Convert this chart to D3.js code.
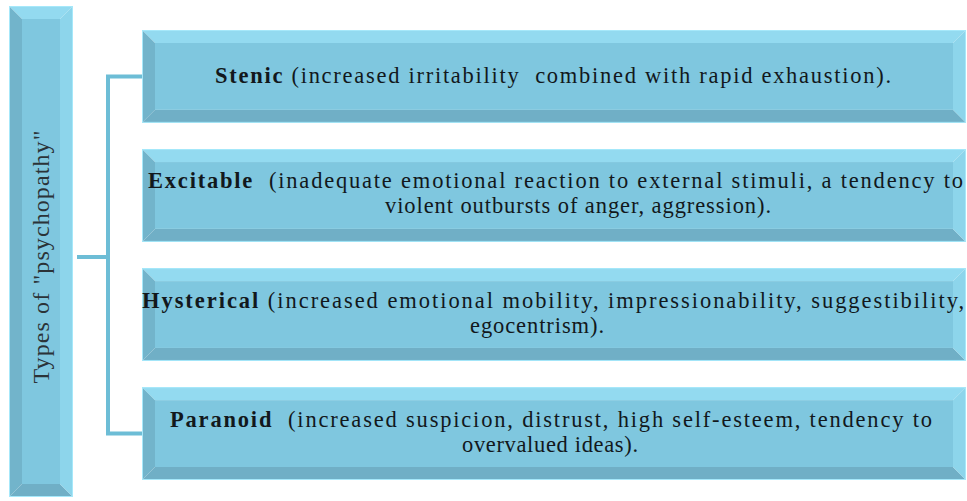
<!DOCTYPE html>
<html>
<head>
<meta charset="utf-8">
<script src="https://cdn.jsdelivr.net/npm/d3@7"></script>
<style>
  body { margin: 0; background: #fff; }
  svg text { white-space: pre; }
</style>
</head>
<body>
<div id="chart"></div>
<script>
const width = 967;
const height = 501;

const rootLabel = 'Types of "psychopathy"';
const categories = ["Stenic", "Excitable", "Hysterical", "Paranoid"];
const firstLines = [
    " (increased irritability  combined with rapid exhaustion).",
    "  (inadequate emotional reaction to external stimuli, a tendency to",
    " (increased emotional mobility, impressionability, suggestibility,",
    "  (increased suspicion, distrust, high self-esteem, tendency to"
];
const secondLines = [
    "",
    "violent outbursts of anger, aggression).",
    "egocentrism).",
    "overvalued ideas)."
];

// where each text line starts and how wide it runs in the original
const firstSpan = [[215, 676], [148, 815], [142, 822], [170, 762]];
const secondSpan = [null, [385, 386], [470, 134], [462, 176]];

const serif = "'Liberation Serif', 'Times New Roman', serif";
const face = "#7fc7df";
const bevelTop = "#93daf0";
const bevelLeft = "#72b4cb";
const bevelBottom = "#70afc6";
const bevelRight = "#8dd5eb";
const edge = "#a6e8fa";
const lineColor = "#6dbdd6";
const textColor = "#12181c";
const bevel = 13;
const fontSize = 22.5;

const svg = d3.select("#chart")
    .append("svg")
    .attr("width", width)
    .attr("height", height);

const y = d3.scaleBand()
    .domain(categories)
    .range([30, 480])
    .paddingInner(0.22);

const boxX0 = 142;
const boxX1 = 966;

function bevelBox(g, x0, y0, w, h) {
    const x1 = x0 + w, y1 = y0 + h, b = bevel;
    const sides = [
        { pts: [[x0, y0], [x1, y0], [x1 - b, y0 + b], [x0 + b, y0 + b]], fill: bevelTop },
        { pts: [[x0, y0], [x0 + b, y0 + b], [x0 + b, y1 - b], [x0, y1]], fill: bevelLeft },
        { pts: [[x0, y1], [x0 + b, y1 - b], [x1 - b, y1 - b], [x1, y1]], fill: bevelBottom },
        { pts: [[x1, y0], [x1, y1], [x1 - b, y1 - b], [x1 - b, y0 + b]], fill: bevelRight }
    ];
    g.selectAll("polygon.side")
        .data(sides)
        .join("polygon")
        .attr("class", "side")
        .attr("points", d => d.pts.map(p => p.join(",")).join(" "))
        .attr("fill", d => d.fill);
    g.append("rect")
        .attr("x", x0 + b).attr("y", y0 + b)
        .attr("width", w - 2 * b).attr("height", h - 2 * b)
        .attr("fill", face);
    g.append("rect")
        .attr("x", x0 + 0.5).attr("y", y0 + 0.5)
        .attr("width", w - 1).attr("height", h - 1)
        .attr("fill", "none")
        .attr("stroke", edge)
        .attr("stroke-width", 1);
}

// root box on the left
const root = svg.append("g");
bevelBox(root, 9, 6, 64, 491);
root.append("text")
    .attr("transform", `translate(49, 257) rotate(-90)`)
    .attr("text-anchor", "middle")
    .attr("font-family", serif)
    .attr("font-size", 24)
    .attr("textLength", 253)
    .attr("lengthAdjust", "spacing")
    .attr("fill", "#2b3338")
    .text(rootLabel);

// bracket connector
const first = y(categories[0]) + y.bandwidth() / 2;
const last = y(categories[categories.length - 1]) + y.bandwidth() / 2;
const conn = svg.append("g")
    .attr("fill", "none")
    .attr("stroke", lineColor)
    .attr("stroke-width", 4);
conn.append("path")
    .attr("d", `M${boxX0},${first} H108 V${last} H${boxX0}`);
conn.append("path")
    .attr("d", `M77,257 H108`);

// category boxes
categories.forEach((cat, i) => {
    const g = svg.append("g");
    const top = y(cat);
    bevelBox(g, boxX0, top, boxX1 - boxX0, y.bandwidth());
    const cy = top + y.bandwidth() / 2;
    const two = secondLines[i] !== "";
    const t1 = g.append("text")
        .attr("x", firstSpan[i][0])
        .attr("y", two ? cy - 7 : cy + 7)
        .attr("font-family", serif)
        .attr("font-size", fontSize)
        .attr("textLength", firstSpan[i][1])
        .attr("lengthAdjust", "spacing")
        .attr("fill", textColor);
    t1.append("tspan").attr("font-weight", "bold").text(cat);
    t1.append("tspan").text(firstLines[i]);
    if (two) {
        g.append("text")
            .attr("x", secondSpan[i][0])
            .attr("y", cy + 18)
            .attr("font-family", serif)
            .attr("font-size", fontSize)
            .attr("textLength", secondSpan[i][1])
            .attr("lengthAdjust", "spacing")
            .attr("fill", textColor)
            .text(secondLines[i]);
    }
});
</script>
</body>
</html>
